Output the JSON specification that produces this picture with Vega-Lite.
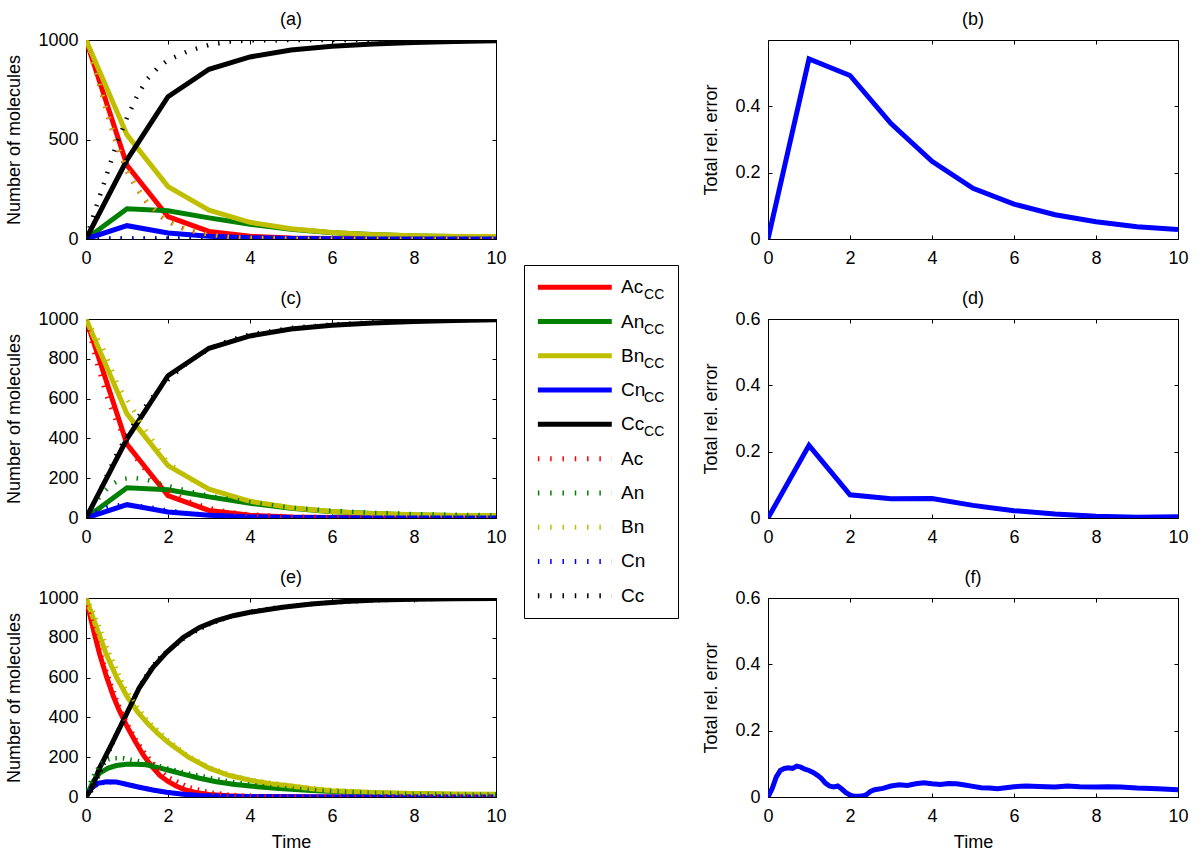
{
"$schema": "https://vega.github.io/schema/vega-lite/v6.json",
"background": "white",
"padding": {"left": 5, "top": 10, "right": 5, "bottom": 5},
"config": {
  "font": "Liberation Sans",
  "view": {"stroke": "black", "strokeWidth": 1},
  "axis": {"grid": false, "domain": false, "tickColor": "black", "tickSize": -4, "tickWidth": 1, "labelColor": "black", "labelFontSize": 18, "titleFontSize": 18, "titleFontWeight": "normal", "titleColor": "black", "labelFlush": false, "labelOverlap": false, "format": "~r"},
  "axisX": {"labelPadding": 14, "titlePadding": 8},
  "axisY": {"labelPadding": 12, "titlePadding": 14},
  "title": {"fontSize": 18, "fontWeight": "normal", "color": "black", "offset": 2, "frame": "group"}
},
"datasets": {
  "ccAC": [
    {"t":0,"series":"Ac","n":1000},{"t":1,"series":"Ac","n":370},{"t":2,"series":"Ac","n":112},{"t":3,"series":"Ac","n":38},{"t":4,"series":"Ac","n":14},{"t":5,"series":"Ac","n":5},{"t":6,"series":"Ac","n":2},{"t":7,"series":"Ac","n":1},{"t":8,"series":"Ac","n":0},{"t":9,"series":"Ac","n":0},{"t":10,"series":"Ac","n":0},
    {"t":0,"series":"An","n":0},{"t":1,"series":"An","n":152},{"t":2,"series":"An","n":142},{"t":3,"series":"An","n":106},{"t":4,"series":"An","n":74},{"t":5,"series":"An","n":49},{"t":6,"series":"An","n":32},{"t":7,"series":"An","n":22},{"t":8,"series":"An","n":15},{"t":9,"series":"An","n":12},{"t":10,"series":"An","n":11},
    {"t":0,"series":"Bn","n":1000},{"t":1,"series":"Bn","n":523},{"t":2,"series":"Bn","n":263},{"t":3,"series":"Bn","n":145},{"t":4,"series":"Bn","n":84},{"t":5,"series":"Bn","n":52},{"t":6,"series":"Bn","n":33},{"t":7,"series":"Bn","n":22},{"t":8,"series":"Bn","n":16},{"t":9,"series":"Bn","n":13},{"t":10,"series":"Bn","n":12},
    {"t":0,"series":"Cn","n":0},{"t":1,"series":"Cn","n":67},{"t":2,"series":"Cn","n":30},{"t":3,"series":"Cn","n":14},{"t":4,"series":"Cn","n":6},{"t":5,"series":"Cn","n":3},{"t":6,"series":"Cn","n":1},{"t":7,"series":"Cn","n":0},{"t":8,"series":"Cn","n":0},{"t":9,"series":"Cn","n":0},{"t":10,"series":"Cn","n":0},
    {"t":0,"series":"Cc","n":0},{"t":1,"series":"Cc","n":398},{"t":2,"series":"Cc","n":715},{"t":3,"series":"Cc","n":853},{"t":4,"series":"Cc","n":915},{"t":5,"series":"Cc","n":950},{"t":6,"series":"Cc","n":968},{"t":7,"series":"Cc","n":980},{"t":8,"series":"Cc","n":988},{"t":9,"series":"Cc","n":993},{"t":10,"series":"Cc","n":996}
  ],
  "refA": [
    {"t":0,"series":"Ac","n":1000},{"t":0.25,"series":"Ac","n":830},{"t":0.5,"series":"Ac","n":640},{"t":0.75,"series":"Ac","n":470},{"t":1,"series":"Ac","n":340},{"t":1.25,"series":"Ac","n":250},{"t":1.5,"series":"Ac","n":180},{"t":1.75,"series":"Ac","n":125},{"t":2,"series":"Ac","n":88},{"t":2.25,"series":"Ac","n":62},{"t":2.5,"series":"Ac","n":43},{"t":2.75,"series":"Ac","n":30},{"t":3,"series":"Ac","n":20},{"t":3.5,"series":"Ac","n":9},{"t":4,"series":"Ac","n":4},{"t":5,"series":"Ac","n":1},{"t":6,"series":"Ac","n":0},{"t":10,"series":"Ac","n":0},
    {"t":0,"series":"An","n":0},{"t":0.5,"series":"An","n":3},{"t":1,"series":"An","n":4},{"t":1.5,"series":"An","n":4},{"t":2,"series":"An","n":3},{"t":3,"series":"An","n":2},{"t":4,"series":"An","n":1},{"t":6,"series":"An","n":0},{"t":10,"series":"An","n":0},
    {"t":0,"series":"Bn","n":1000},{"t":0.25,"series":"Bn","n":836},{"t":0.5,"series":"Bn","n":648},{"t":0.75,"series":"Bn","n":478},{"t":1,"series":"Bn","n":348},{"t":1.25,"series":"Bn","n":257},{"t":1.5,"series":"Bn","n":186},{"t":1.75,"series":"Bn","n":130},{"t":2,"series":"Bn","n":92},{"t":2.25,"series":"Bn","n":66},{"t":2.5,"series":"Bn","n":46},{"t":2.75,"series":"Bn","n":32},{"t":3,"series":"Bn","n":22},{"t":3.5,"series":"Bn","n":10},{"t":4,"series":"Bn","n":5},{"t":5,"series":"Bn","n":2},{"t":6,"series":"Bn","n":1},{"t":10,"series":"Bn","n":0},
    {"t":0,"series":"Cn","n":0},{"t":0.5,"series":"Cn","n":1},{"t":1,"series":"Cn","n":1},{"t":2,"series":"Cn","n":1},{"t":3,"series":"Cn","n":0},{"t":10,"series":"Cn","n":0},
    {"t":0,"series":"Cc","n":0},{"t":0.25,"series":"Cc","n":162},{"t":0.5,"series":"Cc","n":320},{"t":0.75,"series":"Cc","n":480},{"t":1,"series":"Cc","n":610},{"t":1.25,"series":"Cc","n":720},{"t":1.5,"series":"Cc","n":805},{"t":1.75,"series":"Cc","n":860},{"t":2,"series":"Cc","n":899},{"t":2.5,"series":"Cc","n":945},{"t":3,"series":"Cc","n":975},{"t":3.5,"series":"Cc","n":992},{"t":4,"series":"Cc","n":998},{"t":5,"series":"Cc","n":1000},{"t":10,"series":"Cc","n":1000}
  ],
  "refC": [
    {"t":0,"series":"Ac","n":1000},{"t":0.25,"series":"Ac","n":790},{"t":0.5,"series":"Ac","n":615},{"t":0.75,"series":"Ac","n":480},{"t":1,"series":"Ac","n":375},{"t":1.25,"series":"Ac","n":292},{"t":1.5,"series":"Ac","n":228},{"t":1.75,"series":"Ac","n":178},{"t":2,"series":"Ac","n":138},{"t":2.5,"series":"Ac","n":84},{"t":3,"series":"Ac","n":50},{"t":3.5,"series":"Ac","n":30},{"t":4,"series":"Ac","n":18},{"t":5,"series":"Ac","n":7},{"t":6,"series":"Ac","n":3},{"t":7,"series":"Ac","n":1},{"t":8,"series":"Ac","n":0},{"t":10,"series":"Ac","n":0},
    {"t":0,"series":"An","n":0},{"t":0.2,"series":"An","n":70},{"t":0.4,"series":"An","n":125},{"t":0.6,"series":"An","n":165},{"t":0.85,"series":"An","n":195},{"t":1.1,"series":"An","n":202},{"t":1.4,"series":"An","n":196},{"t":1.7,"series":"An","n":180},{"t":2,"series":"An","n":162},{"t":2.5,"series":"An","n":135},{"t":3,"series":"An","n":112},{"t":4,"series":"An","n":79},{"t":5,"series":"An","n":52},{"t":6,"series":"An","n":36},{"t":7,"series":"An","n":26},{"t":8,"series":"An","n":20},{"t":9,"series":"An","n":16},{"t":10,"series":"An","n":14},
    {"t":0,"series":"Bn","n":1000},{"t":0.2,"series":"Bn","n":930},{"t":0.41,"series":"Bn","n":858},{"t":0.6,"series":"Bn","n":760},{"t":0.78,"series":"Bn","n":665},{"t":1.07,"series":"Bn","n":573},{"t":1.35,"series":"Bn","n":472},{"t":1.63,"series":"Bn","n":389},{"t":1.96,"series":"Bn","n":288},{"t":2.5,"series":"Bn","n":200},{"t":3,"series":"Bn","n":145},{"t":4,"series":"Bn","n":85},{"t":5,"series":"Bn","n":52},{"t":6,"series":"Bn","n":33},{"t":7,"series":"Bn","n":22},{"t":8,"series":"Bn","n":16},{"t":9,"series":"Bn","n":13},{"t":10,"series":"Bn","n":11},
    {"t":0,"series":"Cn","n":0},{"t":0.25,"series":"Cn","n":30},{"t":0.5,"series":"Cn","n":52},{"t":0.75,"series":"Cn","n":63},{"t":1,"series":"Cn","n":66},{"t":1.5,"series":"Cn","n":55},{"t":2,"series":"Cn","n":38},{"t":2.5,"series":"Cn","n":24},{"t":3,"series":"Cn","n":15},{"t":4,"series":"Cn","n":6},{"t":5,"series":"Cn","n":3},{"t":6,"series":"Cn","n":1},{"t":7,"series":"Cn","n":0},{"t":10,"series":"Cn","n":0},
    {"t":0,"series":"Cc","n":0},{"t":0.25,"series":"Cc","n":95},{"t":0.5,"series":"Cc","n":210},{"t":0.75,"series":"Cc","n":320},{"t":1,"series":"Cc","n":415},{"t":1.25,"series":"Cc","n":500},{"t":1.5,"series":"Cc","n":575},{"t":1.75,"series":"Cc","n":640},{"t":2,"series":"Cc","n":695},{"t":2.5,"series":"Cc","n":785},{"t":3,"series":"Cc","n":850},{"t":3.5,"series":"Cc","n":893},{"t":4,"series":"Cc","n":922},{"t":5,"series":"Cc","n":955},{"t":6,"series":"Cc","n":972},{"t":7,"series":"Cc","n":983},{"t":8,"series":"Cc","n":990},{"t":9,"series":"Cc","n":994},{"t":10,"series":"Cc","n":996}
  ],
  "ccE": [
    {"t":0,"series":"Ac","n":1000},{"t":0.1,"series":"Ac","n":910},{"t":0.2,"series":"Ac","n":825},{"t":0.33,"series":"Ac","n":720},{"t":0.5,"series":"Ac","n":605},{"t":0.66,"series":"Ac","n":510},{"t":0.8,"series":"Ac","n":440},{"t":1,"series":"Ac","n":355},{"t":1.2,"series":"Ac","n":280},{"t":1.4,"series":"Ac","n":210},{"t":1.6,"series":"Ac","n":155},{"t":1.8,"series":"Ac","n":108},{"t":2,"series":"Ac","n":78},{"t":2.2,"series":"Ac","n":55},{"t":2.4,"series":"Ac","n":37},{"t":2.7,"series":"Ac","n":22},{"t":3,"series":"Ac","n":13},{"t":3.5,"series":"Ac","n":6},{"t":4,"series":"Ac","n":3},{"t":5,"series":"Ac","n":1},{"t":6,"series":"Ac","n":0},{"t":10,"series":"Ac","n":0},
    {"t":0,"series":"An","n":0},{"t":0.17,"series":"An","n":77},{"t":0.33,"series":"An","n":120},{"t":0.54,"series":"An","n":145},{"t":0.74,"series":"An","n":158},{"t":0.98,"series":"An","n":165},{"t":1.22,"series":"An","n":165},{"t":1.47,"series":"An","n":162},{"t":1.71,"series":"An","n":150},{"t":2.04,"series":"An","n":133},{"t":2.37,"series":"An","n":115},{"t":2.77,"series":"An","n":94},{"t":3.18,"series":"An","n":77},{"t":3.59,"series":"An","n":64},{"t":4,"series":"An","n":55},{"t":4.4,"series":"An","n":48},{"t":4.8,"series":"An","n":42},{"t":5.5,"series":"An","n":33},{"t":6.3,"series":"An","n":25},{"t":7,"series":"An","n":20},{"t":8,"series":"An","n":16},{"t":9,"series":"An","n":13},{"t":10,"series":"An","n":12},
    {"t":0,"series":"Bn","n":1000},{"t":0.25,"series":"Bn","n":855},{"t":0.5,"series":"Bn","n":715},{"t":0.75,"series":"Bn","n":600},{"t":1,"series":"Bn","n":505},{"t":1.25,"series":"Bn","n":430},{"t":1.5,"series":"Bn","n":370},{"t":1.75,"series":"Bn","n":320},{"t":2,"series":"Bn","n":275},{"t":2.5,"series":"Bn","n":200},{"t":3,"series":"Bn","n":145},{"t":3.5,"series":"Bn","n":108},{"t":4,"series":"Bn","n":84},{"t":4.5,"series":"Bn","n":67},{"t":5,"series":"Bn","n":55},{"t":5.5,"series":"Bn","n":42},{"t":6,"series":"Bn","n":32},{"t":7,"series":"Bn","n":22},{"t":8,"series":"Bn","n":18},{"t":9,"series":"Bn","n":15},{"t":10,"series":"Bn","n":14},
    {"t":0,"series":"Cn","n":0},{"t":0.13,"series":"Cn","n":44},{"t":0.29,"series":"Cn","n":69},{"t":0.5,"series":"Cn","n":77},{"t":0.74,"series":"Cn","n":76},{"t":0.98,"series":"Cn","n":64},{"t":1.3,"series":"Cn","n":49},{"t":1.63,"series":"Cn","n":35},{"t":1.96,"series":"Cn","n":24},{"t":2.37,"series":"Cn","n":14},{"t":2.77,"series":"Cn","n":8},{"t":3.2,"series":"Cn","n":5},{"t":3.6,"series":"Cn","n":3},{"t":4,"series":"Cn","n":2},{"t":5,"series":"Cn","n":1},{"t":6,"series":"Cn","n":0},{"t":10,"series":"Cn","n":0},
    {"t":0,"series":"Cc","n":0},{"t":0.15,"series":"Cc","n":50},{"t":0.33,"series":"Cc","n":145},{"t":0.66,"series":"Cc","n":279},{"t":0.98,"series":"Cc","n":414},{"t":1.3,"series":"Cc","n":549},{"t":1.63,"series":"Cc","n":650},{"t":1.96,"series":"Cc","n":726},{"t":2.37,"series":"Cc","n":801},{"t":2.77,"series":"Cc","n":852},{"t":3.18,"series":"Cc","n":886},{"t":3.59,"series":"Cc","n":911},{"t":4,"series":"Cc","n":928},{"t":4.4,"series":"Cc","n":941},{"t":4.8,"series":"Cc","n":953},{"t":5.5,"series":"Cc","n":970},{"t":6.3,"series":"Cc","n":983},{"t":7.1,"series":"Cc","n":990},{"t":8,"series":"Cc","n":994},{"t":9,"series":"Cc","n":996},{"t":10,"series":"Cc","n":998}
  ],
  "refE": [
    {"t":0,"series":"Ac","n":1000},{"t":0.2,"series":"Ac","n":830},{"t":0.4,"series":"Ac","n":690},{"t":0.6,"series":"Ac","n":570},{"t":0.8,"series":"Ac","n":460},{"t":1,"series":"Ac","n":370},{"t":1.2,"series":"Ac","n":295},{"t":1.4,"series":"Ac","n":230},{"t":1.6,"series":"Ac","n":178},{"t":1.8,"series":"Ac","n":135},{"t":2,"series":"Ac","n":100},{"t":2.5,"series":"Ac","n":50},{"t":3,"series":"Ac","n":24},{"t":3.5,"series":"Ac","n":11},{"t":4,"series":"Ac","n":5},{"t":5,"series":"Ac","n":1},{"t":6,"series":"Ac","n":0},{"t":10,"series":"Ac","n":0},
    {"t":0,"series":"An","n":0},{"t":0.13,"series":"An","n":86},{"t":0.25,"series":"An","n":130},{"t":0.37,"series":"An","n":170},{"t":0.55,"series":"An","n":188},{"t":0.7,"series":"An","n":195},{"t":0.9,"series":"An","n":195},{"t":1.1,"series":"An","n":187},{"t":1.3,"series":"An","n":180},{"t":1.55,"series":"An","n":170},{"t":1.8,"series":"An","n":155},{"t":2.1,"series":"An","n":138},{"t":2.5,"series":"An","n":118},{"t":3,"series":"An","n":97},{"t":3.5,"series":"An","n":78},{"t":4,"series":"An","n":62},{"t":4.5,"series":"An","n":50},{"t":5,"series":"An","n":42},{"t":5.5,"series":"An","n":35},{"t":6,"series":"An","n":30},{"t":6.5,"series":"An","n":25},{"t":7,"series":"An","n":20},{"t":8,"series":"An","n":16},{"t":9,"series":"An","n":13},{"t":10,"series":"An","n":12},
    {"t":0,"series":"Bn","n":1000},{"t":0.2,"series":"Bn","n":920},{"t":0.35,"series":"Bn","n":840},{"t":0.54,"series":"Bn","n":734},{"t":0.75,"series":"Bn","n":640},{"t":0.9,"series":"Bn","n":566},{"t":1.15,"series":"Bn","n":481},{"t":1.5,"series":"Bn","n":385},{"t":2,"series":"Bn","n":285},{"t":2.5,"series":"Bn","n":205},{"t":3,"series":"Bn","n":150},{"t":3.5,"series":"Bn","n":112},{"t":4,"series":"Bn","n":87},{"t":5,"series":"Bn","n":57},{"t":6,"series":"Bn","n":35},{"t":7,"series":"Bn","n":24},{"t":8,"series":"Bn","n":18},{"t":9,"series":"Bn","n":15},{"t":10,"series":"Bn","n":13},
    {"t":0,"series":"Cn","n":0},{"t":0.15,"series":"Cn","n":45},{"t":0.3,"series":"Cn","n":66},{"t":0.5,"series":"Cn","n":74},{"t":0.75,"series":"Cn","n":73},{"t":1,"series":"Cn","n":64},{"t":1.3,"series":"Cn","n":50},{"t":1.6,"series":"Cn","n":36},{"t":2,"series":"Cn","n":24},{"t":2.5,"series":"Cn","n":12},{"t":3,"series":"Cn","n":6},{"t":4,"series":"Cn","n":2},{"t":5,"series":"Cn","n":1},{"t":6,"series":"Cn","n":0},{"t":10,"series":"Cn","n":0},
    {"t":0,"series":"Cc","n":0},{"t":0.15,"series":"Cc","n":35},{"t":0.3,"series":"Cc","n":105},{"t":0.5,"series":"Cc","n":200},{"t":0.75,"series":"Cc","n":320},{"t":1,"series":"Cc","n":420},{"t":1.25,"series":"Cc","n":530},{"t":1.5,"series":"Cc","n":620},{"t":1.75,"series":"Cc","n":690},{"t":2,"series":"Cc","n":735},{"t":2.5,"series":"Cc","n":815},{"t":3,"series":"Cc","n":868},{"t":3.5,"series":"Cc","n":905},{"t":4,"series":"Cc","n":930},{"t":4.5,"series":"Cc","n":948},{"t":5,"series":"Cc","n":960},{"t":6,"series":"Cc","n":978},{"t":7,"series":"Cc","n":988},{"t":8,"series":"Cc","n":994},{"t":9,"series":"Cc","n":997},{"t":10,"series":"Cc","n":998}
  ],
  "errB": [
    {"t":0,"err":0},{"t":1,"err":0.543},{"t":2,"err":0.493},{"t":3,"err":0.348},{"t":4,"err":0.234},{"t":5,"err":0.153},{"t":6,"err":0.105},{"t":7,"err":0.073},{"t":8,"err":0.052},{"t":9,"err":0.037},{"t":10,"err":0.029}
  ],
  "errD": [
    {"t":0,"err":0},{"t":1,"err":0.219},{"t":2,"err":0.07},{"t":3,"err":0.058},{"t":4,"err":0.059},{"t":5,"err":0.038},{"t":6,"err":0.022},{"t":7,"err":0.012},{"t":8,"err":0.005},{"t":9,"err":0.002},{"t":10,"err":0.004}
  ],
  "errF": [
    {"t":0,"err":0},{"t":0.1,"err":0.025},{"t":0.2,"err":0.06},{"t":0.3,"err":0.08},{"t":0.4,"err":0.086},{"t":0.5,"err":0.088},{"t":0.6,"err":0.086},{"t":0.7,"err":0.093},{"t":0.8,"err":0.09},{"t":0.9,"err":0.084},{"t":1,"err":0.08},{"t":1.1,"err":0.074},{"t":1.2,"err":0.066},{"t":1.3,"err":0.056},{"t":1.4,"err":0.042},{"t":1.5,"err":0.033},{"t":1.6,"err":0.03},{"t":1.7,"err":0.033},{"t":1.8,"err":0.024},{"t":1.9,"err":0.013},{"t":2,"err":0.006},{"t":2.1,"err":0.002},{"t":2.2,"err":0.002},{"t":2.3,"err":0.003},{"t":2.4,"err":0.007},{"t":2.5,"err":0.017},{"t":2.6,"err":0.022},{"t":2.8,"err":0.026},{"t":3,"err":0.033},{"t":3.2,"err":0.037},{"t":3.4,"err":0.035},{"t":3.6,"err":0.04},{"t":3.8,"err":0.043},{"t":4,"err":0.04},{"t":4.2,"err":0.038},{"t":4.4,"err":0.041},{"t":4.6,"err":0.04},{"t":4.8,"err":0.036},{"t":5,"err":0.032},{"t":5.2,"err":0.028},{"t":5.4,"err":0.027},{"t":5.6,"err":0.025},{"t":5.8,"err":0.028},{"t":6,"err":0.031},{"t":6.3,"err":0.033},{"t":6.6,"err":0.032},{"t":7,"err":0.03},{"t":7.3,"err":0.033},{"t":7.6,"err":0.031},{"t":8,"err":0.03},{"t":8.3,"err":0.031},{"t":8.6,"err":0.03},{"t":9,"err":0.027},{"t":9.5,"err":0.025},{"t":10,"err":0.022}
  ],
  "legend": [
    {"entry":"AcCC","name":"Ac","sub":"CC","series":"Ac","style":"solid"},
    {"entry":"AnCC","name":"An","sub":"CC","series":"An","style":"solid"},
    {"entry":"BnCC","name":"Bn","sub":"CC","series":"Bn","style":"solid"},
    {"entry":"CnCC","name":"Cn","sub":"CC","series":"Cn","style":"solid"},
    {"entry":"CcCC","name":"Cc","sub":"CC","series":"Cc","style":"solid"},
    {"entry":"Ac","name":"Ac","sub":"","series":"Ac","style":"dotted"},
    {"entry":"An","name":"An","sub":"","series":"An","style":"dotted"},
    {"entry":"Bn","name":"Bn","sub":"","series":"Bn","style":"dotted"},
    {"entry":"Cn","name":"Cn","sub":"","series":"Cn","style":"dotted"},
    {"entry":"Cc","name":"Cc","sub":"","series":"Cc","style":"dotted"}
  ]
},
"spacing": 16,
"hconcat": [
  {"spacing": 21, "vconcat": [
    {"width": 410, "height": 199, "title": "(a)",
     "resolve": {"axis": {"x": "independent", "y": "independent"}},
     "layer": [
       {"data": {"name": "ccAC"}, "mark": {"type": "line", "strokeWidth": 5, "clip": true},
        "encoding": {"x": {"field": "t", "type": "quantitative", "scale": {"domain": [0, 10]}, "axis": {"values": [0,2,4,6,8,10], "title": null}},
          "y": {"field": "n", "type": "quantitative", "scale": {"domain": [0, 1000]}, "axis": {"values": [0,500,1000], "title": "Number of molecules"}},
          "color": {"field": "series", "type": "nominal", "scale": {"domain": ["Ac","An","Bn","Cn","Cc"], "range": ["#ff0000","#008000","#bfbf00","#0000ff","#000000"]}, "legend": null}}},
       {"data": {"name": "refA"}, "mark": {"type": "line", "strokeWidth": 4.5, "strokeDash": [1.5, 10], "clip": true},
        "encoding": {"x": {"field": "t", "type": "quantitative", "axis": null}, "y": {"field": "n", "type": "quantitative", "axis": null},
          "color": {"field": "series", "type": "nominal", "legend": null}}},
       {"data": {"name": "ccAC"}, "mark": {"type": "point", "opacity": 0},
        "encoding": {"x": {"field": "t", "type": "quantitative", "axis": {"orient": "top", "values": [0,2,4,6,8,10], "labels": false, "title": null}},
          "y": {"field": "n", "type": "quantitative", "axis": {"orient": "right", "values": [0,500,1000], "labels": false, "title": null}}}}
     ]},
    {"width": 410, "height": 199, "title": "(c)",
     "resolve": {"axis": {"x": "independent", "y": "independent"}},
     "layer": [
       {"data": {"name": "ccAC"}, "mark": {"type": "line", "strokeWidth": 5, "clip": true},
        "encoding": {"x": {"field": "t", "type": "quantitative", "scale": {"domain": [0, 10]}, "axis": {"values": [0,2,4,6,8,10], "title": null}},
          "y": {"field": "n", "type": "quantitative", "scale": {"domain": [0, 1000]}, "axis": {"values": [0,200,400,600,800,1000], "title": "Number of molecules"}},
          "color": {"field": "series", "type": "nominal", "scale": {"domain": ["Ac","An","Bn","Cn","Cc"], "range": ["#ff0000","#008000","#bfbf00","#0000ff","#000000"]}, "legend": null}}},
       {"data": {"name": "refC"}, "mark": {"type": "line", "strokeWidth": 4.5, "strokeDash": [1.5, 10], "clip": true},
        "encoding": {"x": {"field": "t", "type": "quantitative", "axis": null}, "y": {"field": "n", "type": "quantitative", "axis": null},
          "color": {"field": "series", "type": "nominal", "legend": null}}},
       {"data": {"name": "ccAC"}, "mark": {"type": "point", "opacity": 0},
        "encoding": {"x": {"field": "t", "type": "quantitative", "axis": {"orient": "top", "values": [0,2,4,6,8,10], "labels": false, "title": null}},
          "y": {"field": "n", "type": "quantitative", "axis": {"orient": "right", "values": [0,200,400,600,800,1000], "labels": false, "title": null}}}}
     ]},
    {"width": 410, "height": 199, "title": "(e)",
     "resolve": {"axis": {"x": "independent", "y": "independent"}},
     "layer": [
       {"data": {"name": "ccE"}, "mark": {"type": "line", "strokeWidth": 5, "clip": true},
        "encoding": {"x": {"field": "t", "type": "quantitative", "scale": {"domain": [0, 10]}, "axis": {"values": [0,2,4,6,8,10], "title": "Time"}},
          "y": {"field": "n", "type": "quantitative", "scale": {"domain": [0, 1000]}, "axis": {"values": [0,200,400,600,800,1000], "title": "Number of molecules"}},
          "color": {"field": "series", "type": "nominal", "scale": {"domain": ["Ac","An","Bn","Cn","Cc"], "range": ["#ff0000","#008000","#bfbf00","#0000ff","#000000"]}, "legend": null}}},
       {"data": {"name": "refE"}, "mark": {"type": "line", "strokeWidth": 4.5, "strokeDash": [1.5, 6], "clip": true},
        "encoding": {"x": {"field": "t", "type": "quantitative", "axis": null}, "y": {"field": "n", "type": "quantitative", "axis": null},
          "color": {"field": "series", "type": "nominal", "legend": null}}},
       {"data": {"name": "ccE"}, "mark": {"type": "point", "opacity": 0},
        "encoding": {"x": {"field": "t", "type": "quantitative", "axis": {"orient": "top", "values": [0,2,4,6,8,10], "labels": false, "title": null}},
          "y": {"field": "n", "type": "quantitative", "axis": {"orient": "right", "values": [0,200,400,600,800,1000], "labels": false, "title": null}}}}
     ]}
  ]},
  {"spacing": 0, "vconcat": [
    {"width": 162, "height": 224, "view": {"stroke": null}, "data": {"values": []}, "mark": "point"},
    {"width": 154, "height": 353, "data": {"name": "legend"},
     "encoding": {"y": {"field": "entry", "type": "nominal", "scale": {"type": "point", "padding": 0.65, "domain": ["AcCC","AnCC","BnCC","CnCC","CcCC","Ac","An","Bn","Cn","Cc"]}, "axis": null}},
     "layer": [
       {"mark": {"type": "rule", "strokeWidth": 5},
        "encoding": {"x": {"datum": 0.09, "type": "quantitative", "scale": {"domain": [0, 1]}, "axis": null}, "x2": {"datum": 0.57},
          "color": {"field": "series", "type": "nominal", "legend": null},
          "strokeDash": {"field": "style", "type": "nominal", "scale": {"domain": ["solid", "dotted"], "range": [[1, 0], [1.5, 10.8]]}, "legend": null}}},
       {"mark": {"type": "text", "align": "left", "baseline": "middle", "fontSize": 19, "color": "black"},
        "encoding": {"x": {"datum": 0.63, "type": "quantitative"}, "text": {"field": "name"}}},
       {"mark": {"type": "text", "align": "left", "baseline": "middle", "fontSize": 14, "dx": 23, "dy": 8, "color": "black"},
        "encoding": {"x": {"datum": 0.63, "type": "quantitative"}, "text": {"field": "sub"}}}
     ]}
  ]},
  {"spacing": 21, "vconcat": [
    {"width": 410, "height": 199, "title": {"text": "(b)", "offset": 11},
     "resolve": {"axis": {"x": "independent", "y": "independent"}},
     "layer": [
       {"data": {"name": "errB"}, "mark": {"type": "line", "strokeWidth": 5, "color": "#0000ff", "clip": true},
        "encoding": {"x": {"field": "t", "type": "quantitative", "scale": {"domain": [0, 10]}, "axis": {"values": [0,2,4,6,8,10], "title": null}},
          "y": {"field": "err", "type": "quantitative", "scale": {"domain": [0, 0.6]}, "axis": {"values": [0,0.2,0.4], "title": "Total rel. error"}}}},
       {"data": {"name": "errB"}, "mark": {"type": "point", "opacity": 0},
        "encoding": {"x": {"field": "t", "type": "quantitative", "axis": {"orient": "top", "values": [0,2,4,6,8,10], "labels": false, "title": null}},
          "y": {"field": "err", "type": "quantitative", "axis": {"orient": "right", "values": [0,0.2,0.4], "labels": false, "title": null}}}}
     ]},
    {"width": 410, "height": 199, "title": "(d)",
     "resolve": {"axis": {"x": "independent", "y": "independent"}},
     "layer": [
       {"data": {"name": "errD"}, "mark": {"type": "line", "strokeWidth": 5, "color": "#0000ff", "clip": true},
        "encoding": {"x": {"field": "t", "type": "quantitative", "scale": {"domain": [0, 10]}, "axis": {"values": [0,2,4,6,8,10], "title": null}},
          "y": {"field": "err", "type": "quantitative", "scale": {"domain": [0, 0.6]}, "axis": {"values": [0,0.2,0.4,0.6], "title": "Total rel. error"}}}},
       {"data": {"name": "errD"}, "mark": {"type": "point", "opacity": 0},
        "encoding": {"x": {"field": "t", "type": "quantitative", "axis": {"orient": "top", "values": [0,2,4,6,8,10], "labels": false, "title": null}},
          "y": {"field": "err", "type": "quantitative", "axis": {"orient": "right", "values": [0,0.2,0.4,0.6], "labels": false, "title": null}}}}
     ]},
    {"width": 410, "height": 199, "title": "(f)",
     "resolve": {"axis": {"x": "independent", "y": "independent"}},
     "layer": [
       {"data": {"name": "errF"}, "mark": {"type": "line", "strokeWidth": 5, "color": "#0000ff", "clip": true},
        "encoding": {"x": {"field": "t", "type": "quantitative", "scale": {"domain": [0, 10]}, "axis": {"values": [0,2,4,6,8,10], "title": "Time"}},
          "y": {"field": "err", "type": "quantitative", "scale": {"domain": [0, 0.6]}, "axis": {"values": [0,0.2,0.4,0.6], "title": "Total rel. error"}}}},
       {"data": {"name": "errF"}, "mark": {"type": "point", "opacity": 0},
        "encoding": {"x": {"field": "t", "type": "quantitative", "axis": {"orient": "top", "values": [0,2,4,6,8,10], "labels": false, "title": null}},
          "y": {"field": "err", "type": "quantitative", "axis": {"orient": "right", "values": [0,0.2,0.4,0.6], "labels": false, "title": null}}}}
     ]}
  ]}
]
}
